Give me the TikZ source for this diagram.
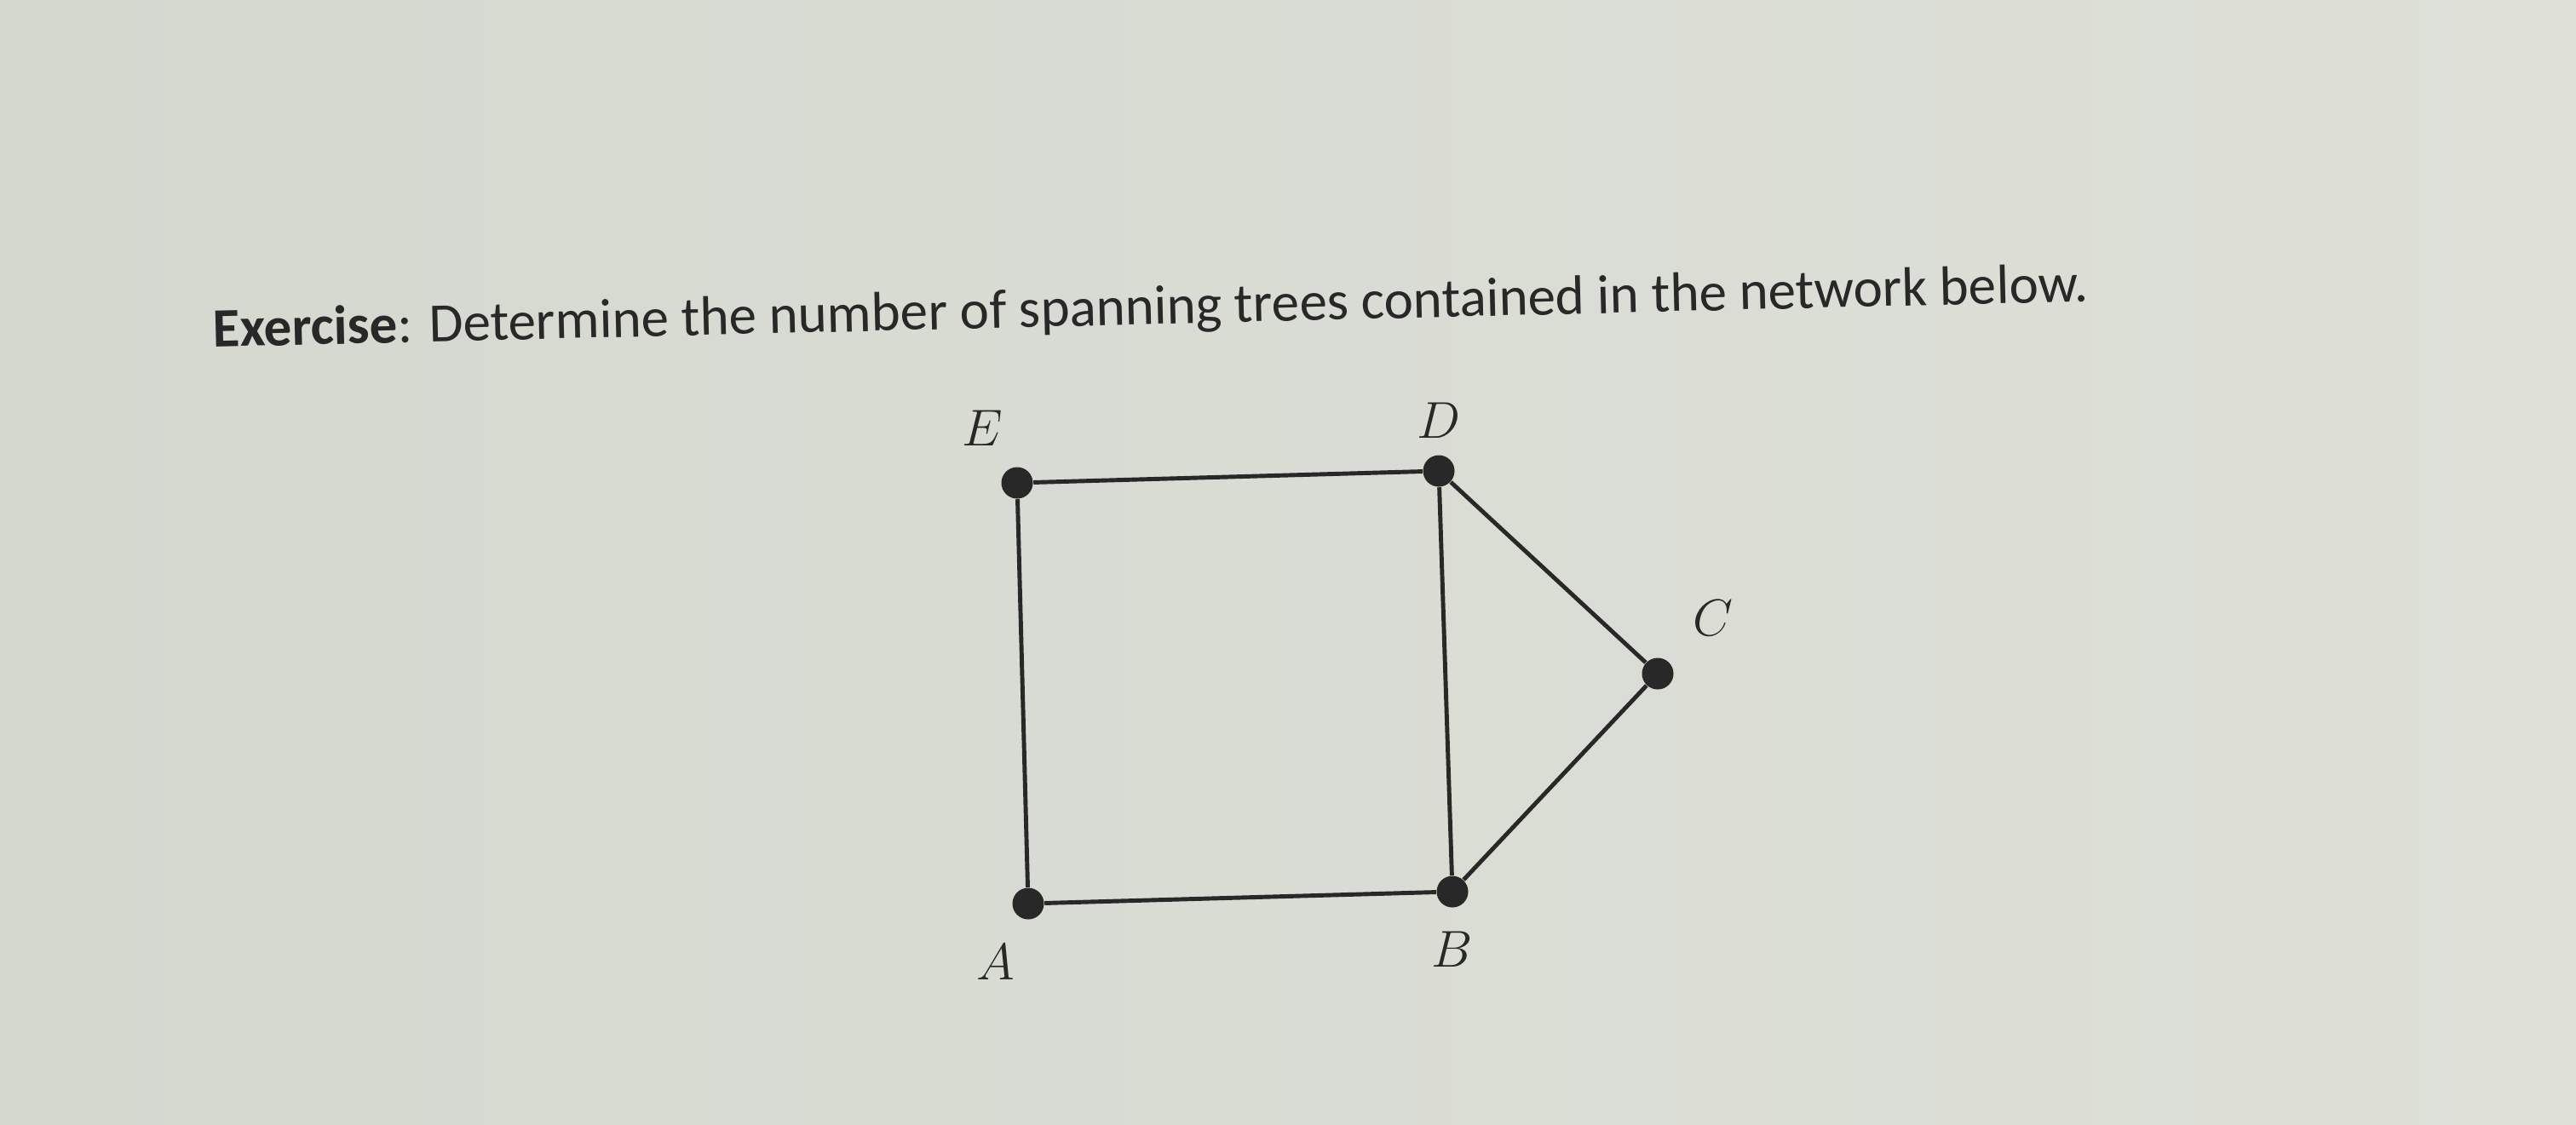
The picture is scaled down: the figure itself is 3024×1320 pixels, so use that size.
\documentclass[tikz,border=0pt]{standalone}
\usepackage{fontspec}
\setmainfont{Carlito}
\usepackage{tikz}
\usepackage{xcolor}
\usetikzlibrary{positioning}

\definecolor{paper}{RGB}{212,216,207}
\definecolor{paperlight}{RGB}{222,224,216}
\definecolor{ink}{RGB}{40,40,40}

\begin{document}
\begin{tikzpicture}[x=0.01cm, y=-0.01cm,
        vertex/.style={circle, fill=ink, inner sep=0pt, minimum size=0.37cm},
        edgeline/.style={draw=ink, line width=1.4pt},
        every label/.style={inner sep=0pt, font=\fontsize{18.5}{22}\selectfont, text=ink}]
                        \shade[left color=paper, right color=paperlight] (0, 0) rectangle (3024, 1320);
                        \useasboundingbox (0, 0) rectangle (3024, 1320);

                        \node[anchor=base west, rotate=1.4, font=\fontsize{18.5}{22}\selectfont, text=ink] (title) at (238, 408)
                        {\textbf{Exercise}: Determine the number of spanning trees contained in the network below.};

                        \node[vertex, label={[label distance=0.27cm]111:$E$}] (E) at (1194, 567) {};
                        \node[vertex, label={[label distance=0.19cm]above:$D$}] (D) at (1689, 553) {};
                        \node[vertex, label={[label distance=0.4cm]47:$C$}] (C) at (1946, 791) {};
                        \node[vertex, label={[label distance=0.27cm]below:$B$}] (B) at (1705, 1047) {};
                        \node[vertex, label={[label distance=0.3cm]252:$A$}] (A) at (1207, 1061) {};
                        \draw[edgeline]
                        (E) -- (D)
                        (E) -- (A)
                        (A) -- (B)
                        (B) -- (D)
                        (D) -- (C)
                        (C) -- (B);
                    \end{tikzpicture}
\end{document}
